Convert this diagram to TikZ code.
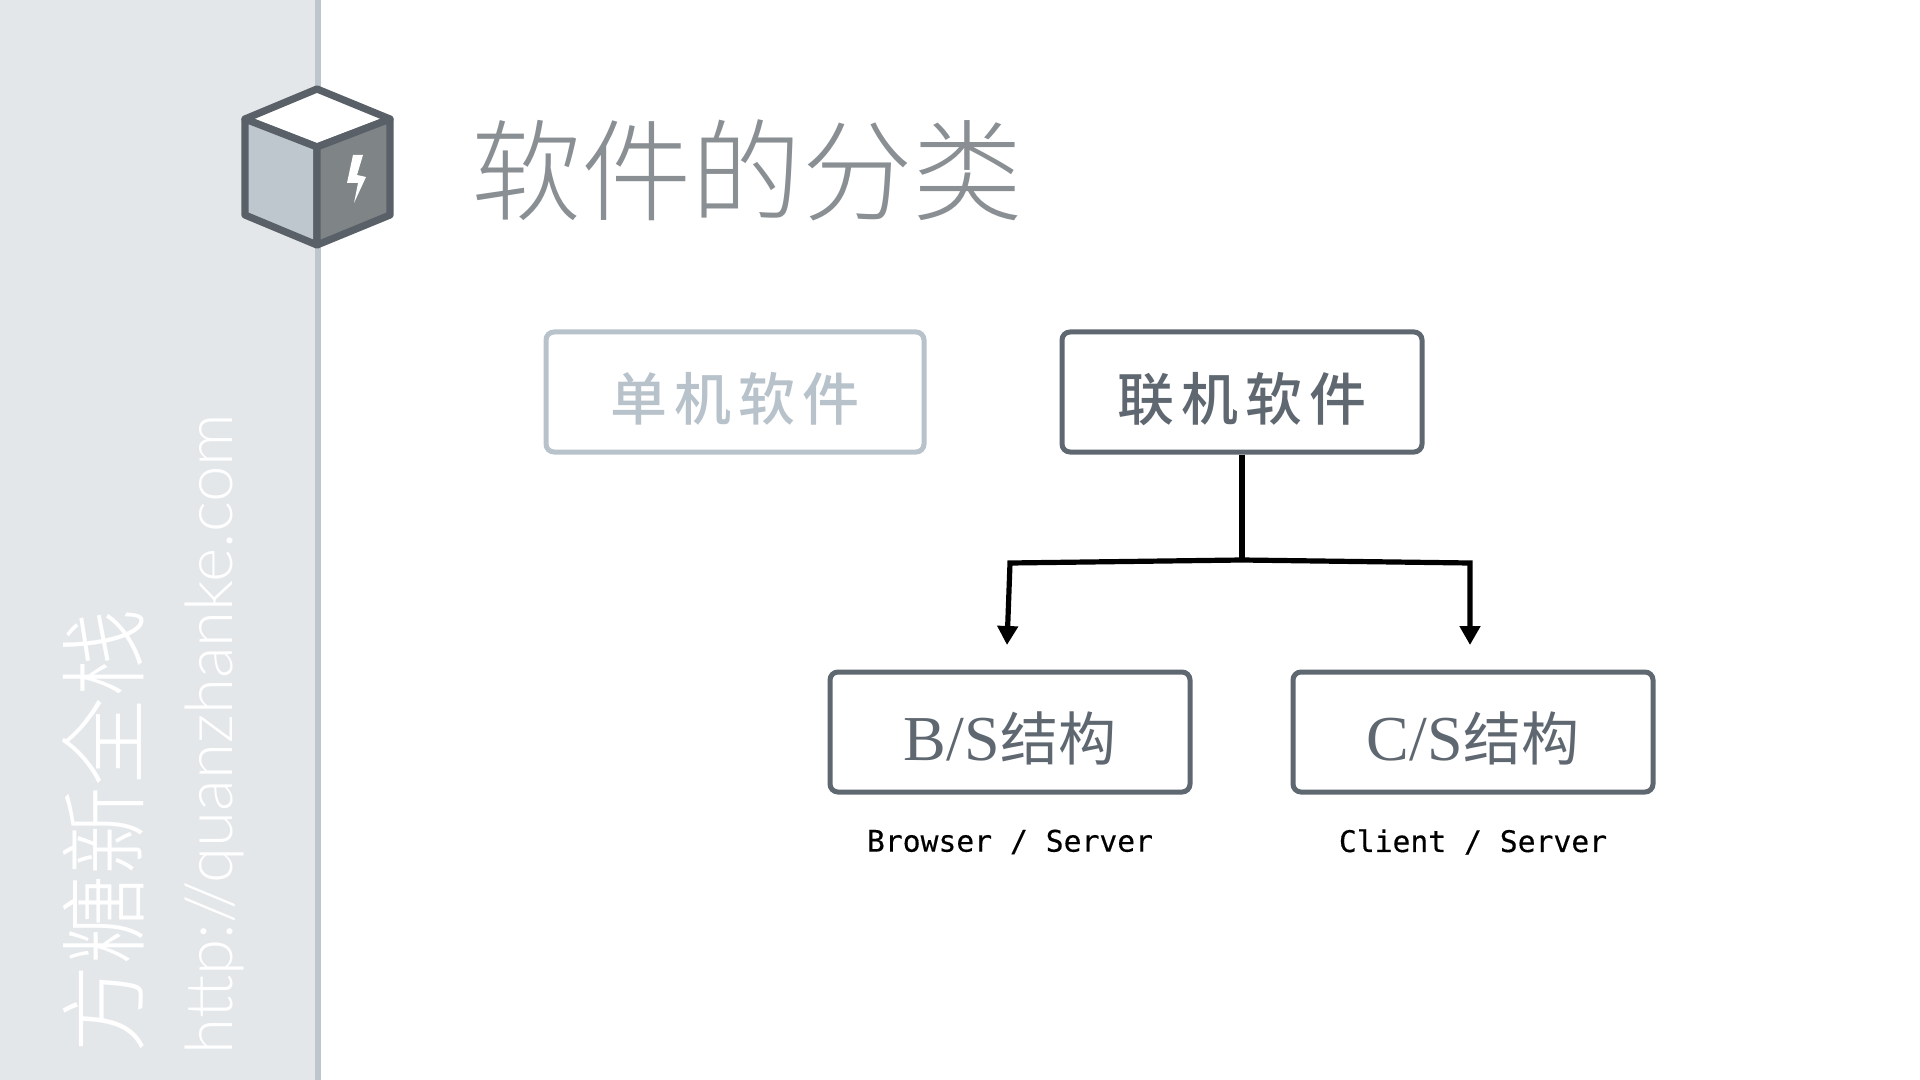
\documentclass[tikz,border=0pt]{standalone}
\usepackage{fontspec}
\usepackage{xcolor}
\usetikzlibrary{positioning, calc, arrows.meta}

\setmainfont{Liberation Serif}
\newfontfamily\cjklight{Noto Sans CJK SC Light}
\newfontfamily\cjkbox[LetterSpace=12]{Noto Sans CJK SC Medium}
\newfontfamily\cjkplain{Noto Sans CJK SC}
\newfontfamily\urlfont{Lato Light}
\setmonofont[FakeBold=0.35]{DejaVu Sans Mono}

\definecolor{sidebg}{HTML}{E4E7EA}
\definecolor{sidebar}{HTML}{BEC5CC}
\definecolor{cubeline}{HTML}{5A6068}
\definecolor{cubeleft}{HTML}{BEC6CE}
\definecolor{cuberight}{HTML}{7F8487}
\definecolor{titlegray}{HTML}{8A8F94}
\definecolor{boxline}{HTML}{5F6870}
\definecolor{boxfaint}{HTML}{B8C2CB}

\tikzset{
  catbox/.style={draw=boxline, line width=2.5pt, rounded corners=4pt, minimum width=180pt, minimum height=60pt, text=boxline, inner sep=0pt, text height=28pt, text depth=0pt},
  faintbox/.style={catbox, draw=boxfaint, text=boxfaint, minimum width=189pt},
  subtext/.style={font=\ttfamily\fontsize{14.85}{16}\selectfont, text=black},
  sidetext/.style={rotate=90, text=white},
  fork/.style={line width=2.6pt, black},
  forkarrow/.style={fork, -{Triangle[length=9.5pt, width=10pt]}},
}

\begin{document}
\begin{tikzpicture}[x=0.5pt, y=-0.5pt]
  \useasboundingbox (0,0) rectangle (1920,1080);
  \fill[white] (0,0) rectangle (1920,1080);

  % Sidebar
  \fill[sidebg] (0,0) rectangle (315,1080);
  \fill[sidebar] (315,0) rectangle (321,1080);
  \node[sidetext, font=\cjklight\fontsize{44.4}{44.4}\selectfont] (brand) at (103,831) {方糖新全栈};
  \node[sidetext, font=\urlfont\fontsize{32.7}{32.7}\selectfont] (url) at (214,734) {http://quanzhanke.com};

  % Cube
  \begin{scope}[line width=3.6pt, draw=cubeline, line join=round]
    \filldraw[fill=white] (317,89) -- (390,119) -- (317,147) -- (245,119) -- cycle;
    \filldraw[fill=cubeleft] (245,119) -- (317,147) -- (317,245) -- (245,215) -- cycle;
    \filldraw[fill=cuberight] (390,119) -- (317,147) -- (317,245) -- (390,215) -- cycle;
  \end{scope}
  \fill[white] (353,155) -- (363,155) -- (357,175) -- (366,177) -- (354,203) -- (358,183) -- (347,183) -- cycle;

  % Title
  \node[font=\cjklight\fontsize{55.2}{55.2}\selectfont, text=titlegray] (title) at (747,170) {软件的分类};

  % Category boxes
  \foreach \name/\x/\sty/\txt in {
    single/735/faintbox/单机软件,
    online/1242/catbox/联机软件} {
    \node[\sty, font=\cjkbox\fontsize{28.5}{28.5}\selectfont] (\name) at (\x,392) {\txt};
  }
  \foreach \name/\x/\ltr in {bs/1010/B, cs/1473/C} {
    \node[catbox, font=\fontsize{32}{32}\selectfont] (\name) at (\x,732) {\ltr/S{\cjkplain\fontsize{29}{29}\selectfont 结构}};
  }

  % Captions
  \node[subtext] (bscap) at (1010,842) {Browser / Server};
  \node[subtext] (cscap) at (1473,842) {Client / Server};

  % Connectors
  \coordinate (fork) at (1242,560);
  \coordinate (bsbend) at (1010,563);
  \coordinate (csbend) at (1470,563);
  \coordinate (bstip) at (1007,645);
  \coordinate (cstip) at (1470,645);
  \draw[fork] (online.south) -- (fork);
  \draw[forkarrow, line join=miter] (fork) -- (bsbend) -- (bstip);
  \draw[forkarrow, line join=miter] (fork) -- (csbend) -- (cstip);
\end{tikzpicture}
\end{document}
